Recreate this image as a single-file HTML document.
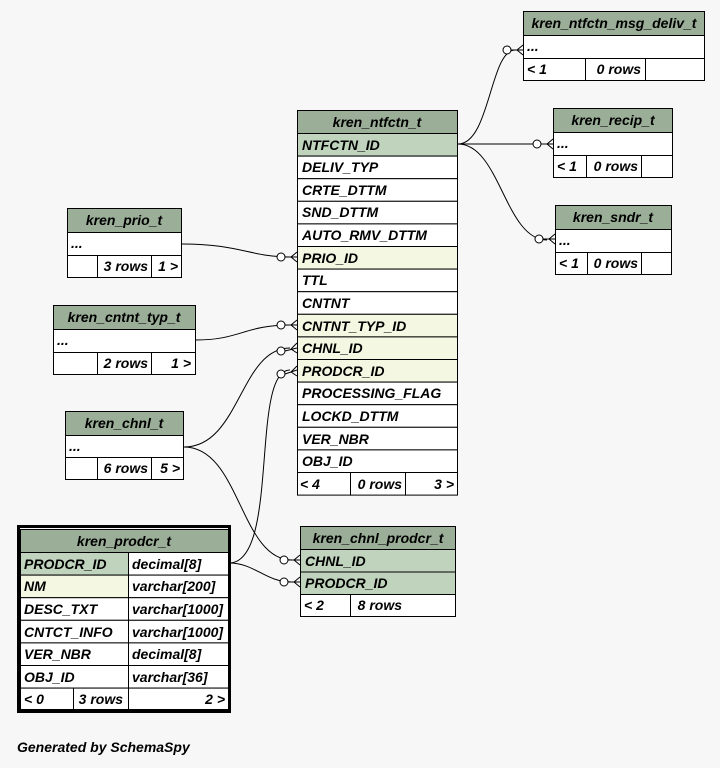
<!DOCTYPE html>
<html><head><meta charset="utf-8"><style>
html,body{margin:0;padding:0;background:#f7f7f7;}
svg{display:block}
text{font-family:"Liberation Sans",sans-serif;font-weight:bold;font-style:italic;font-size:14px;fill:#000}
.h{fill:#9aae98}.pk{fill:#bfd3bd}.fk{fill:#f4f7e1}.w{fill:#fff}
rect{stroke:#000;stroke-width:1}
path{fill:none;stroke:#000;stroke-width:1}
circle{fill:#fff;stroke:#000}
</style></head><body>
<svg width="720" height="768" viewBox="0 0 720 768" xmlns="http://www.w3.org/2000/svg">

<!-- connectors -->
<path d="M458,144 C490,144 490,50 515,50"/>
<path d="M458,144 L545,144"/>
<path d="M458,144 C500,144 505,240 547,240"/>
<path d="M182,244 C240,244 250,257 290,257"/>
<path d="M196,340 C240,340 245,325 290,325"/>
<path d="M184,447 C240,447 240,348 290,348"/>
<path d="M184,447 C240,447 240,560 292,560"/>
<path d="M229,563 C280,563 250,370 290,370"/>
<path d="M229,563 C255,563 265,582 292,582"/>
<circle cx="507" cy="50" r="4"/><path d="M511,50 L523,50 M517,50 L523,45 M517,50 L523,55"/>
<circle cx="537" cy="144" r="4"/><path d="M541,144 L553,144 M547,144 L553,139 M547,144 L553,149"/>
<circle cx="539" cy="239" r="4"/><path d="M543,239 L555,239 M549,239 L555,234 M549,239 L555,244"/>
<circle cx="281" cy="257" r="4"/><path d="M285,257 L297,257 M291,257 L297,252 M291,257 L297,262"/>
<circle cx="281" cy="325" r="4"/><path d="M285,325 L297,325 M291,325 L297,320 M291,325 L297,330"/>
<circle cx="281" cy="351" r="4"/><path d="M285,351 L297,348 M291,349 L297,343 M291,349 L297,353"/>
<circle cx="281" cy="374" r="4"/><path d="M285,374 L297,370 M291,372 L297,366 M291,372 L297,376"/>
<circle cx="284" cy="560" r="4"/><path d="M288,560 L300,560 M294,560 L300,555 M294,560 L300,565"/>
<circle cx="284" cy="582" r="4"/><path d="M288,582 L300,582 M294,582 L300,577 M294,582 L300,587"/>

<!-- kren_ntfctn_t -->
<rect class="h" x="297.5" y="110.5" width="160" height="23"/>
<text x="377" y="127" text-anchor="middle">kren_ntfctn_t</text>
<rect class="pk" x="297.5" y="133.5" width="160" height="22.6"/>
<rect class="w" x="297.5" y="156.1" width="160" height="22.6"/>
<rect class="w" x="297.5" y="178.7" width="160" height="22.6"/>
<rect class="w" x="297.5" y="201.3" width="160" height="22.6"/>
<rect class="w" x="297.5" y="223.9" width="160" height="22.6"/>
<rect class="fk" x="297.5" y="246.5" width="160" height="22.6"/>
<rect class="w" x="297.5" y="269.1" width="160" height="22.6"/>
<rect class="w" x="297.5" y="291.7" width="160" height="22.6"/>
<rect class="fk" x="297.5" y="314.3" width="160" height="22.6"/>
<rect class="fk" x="297.5" y="336.9" width="160" height="22.6"/>
<rect class="fk" x="297.5" y="359.5" width="160" height="22.6"/>
<rect class="w" x="297.5" y="382.1" width="160" height="22.6"/>
<rect class="w" x="297.5" y="404.7" width="160" height="22.6"/>
<rect class="w" x="297.5" y="427.3" width="160" height="22.6"/>
<rect class="w" x="297.5" y="449.9" width="160" height="22.6"/>
<rect class="w" x="297.5" y="472.5" width="53" height="22.6"/>
<rect class="w" x="350.5" y="472.5" width="55" height="22.6"/>
<rect class="w" x="405.5" y="472.5" width="52" height="22.6"/>
<text x="302" y="150">NTFCTN_ID</text>
<text x="302" y="172">DELIV_TYP</text>
<text x="302" y="195">CRTE_DTTM</text>
<text x="302" y="217">SND_DTTM</text>
<text x="302" y="240">AUTO_RMV_DTTM</text>
<text x="302" y="263">PRIO_ID</text>
<text x="302" y="285">TTL</text>
<text x="302" y="308">CNTNT</text>
<text x="302" y="331">CNTNT_TYP_ID</text>
<text x="302" y="353">CHNL_ID</text>
<text x="302" y="376">PRODCR_ID</text>
<text x="302" y="398">PROCESSING_FLAG</text>
<text x="302" y="421">LOCKD_DTTM</text>
<text x="302" y="444">VER_NBR</text>
<text x="302" y="466">OBJ_ID</text>
<text x="300" y="489">&lt; 4</text>
<text x="402" y="489" text-anchor="end">0 rows</text>
<text x="454" y="489" text-anchor="end">3 &gt;</text>

<!-- kren_ntfctn_msg_deliv_t -->
<rect class="h" x="523.5" y="11.5" width="181" height="24"/>
<text x="614" y="28" text-anchor="middle">kren_ntfctn_msg_deliv_t</text>
<rect class="w" x="523.5" y="35.5" width="181" height="23"/>
<text x="527" y="51">...</text>
<rect class="w" x="523.5" y="58.5" width="62" height="22"/>
<rect class="w" x="585.5" y="58.5" width="60" height="22"/>
<rect class="w" x="645.5" y="58.5" width="59" height="22"/>
<text x="527" y="74">&lt; 1</text>
<text x="641" y="74" text-anchor="end">0 rows</text>

<!-- kren_recip_t -->
<rect class="h" x="553.5" y="108.5" width="119" height="24"/>
<text x="613" y="125" text-anchor="middle">kren_recip_t</text>
<rect class="w" x="553.5" y="132.5" width="119" height="23"/>
<text x="557" y="148">...</text>
<rect class="w" x="553.5" y="155.5" width="33" height="22"/>
<rect class="w" x="586.5" y="155.5" width="55" height="22"/>
<rect class="w" x="641.5" y="155.5" width="31" height="22"/>
<text x="557" y="171">&lt; 1</text>
<text x="638" y="171" text-anchor="end">0 rows</text>

<!-- kren_sndr_t -->
<rect class="h" x="555.5" y="205.5" width="116" height="24"/>
<text x="613" y="222" text-anchor="middle">kren_sndr_t</text>
<rect class="w" x="555.5" y="229.5" width="116" height="23"/>
<text x="559" y="245">...</text>
<rect class="w" x="555.5" y="252.5" width="32" height="22"/>
<rect class="w" x="587.5" y="252.5" width="54" height="22"/>
<rect class="w" x="641.5" y="252.5" width="30" height="22"/>
<text x="559" y="268">&lt; 1</text>
<text x="638" y="268" text-anchor="end">0 rows</text>

<!-- kren_prio_t -->
<rect class="h" x="67.5" y="208.5" width="114" height="24"/>
<text x="124" y="225" text-anchor="middle">kren_prio_t</text>
<rect class="w" x="67.5" y="232.5" width="114" height="23"/>
<text x="71" y="248">...</text>
<rect class="w" x="67.5" y="255.5" width="30" height="22"/>
<rect class="w" x="97.5" y="255.5" width="54" height="22"/>
<rect class="w" x="151.5" y="255.5" width="30" height="22"/>
<text x="148" y="271" text-anchor="end">3 rows</text>
<text x="178" y="271" text-anchor="end">1 &gt;</text>

<!-- kren_cntnt_typ_t -->
<rect class="h" x="53.5" y="305.5" width="142" height="24"/>
<text x="124" y="322" text-anchor="middle">kren_cntnt_typ_t</text>
<rect class="w" x="53.5" y="329.5" width="142" height="23"/>
<text x="57" y="345">...</text>
<rect class="w" x="53.5" y="352.5" width="44" height="22"/>
<rect class="w" x="97.5" y="352.5" width="54" height="22"/>
<rect class="w" x="151.5" y="352.5" width="44" height="22"/>
<text x="148" y="368" text-anchor="end">2 rows</text>
<text x="191" y="368" text-anchor="end">1 &gt;</text>

<!-- kren_chnl_t -->
<rect class="h" x="65.5" y="411.5" width="118" height="24"/>
<text x="124" y="428" text-anchor="middle">kren_chnl_t</text>
<rect class="w" x="65.5" y="435.5" width="118" height="22"/>
<text x="69" y="451">...</text>
<rect class="w" x="65.5" y="457.5" width="32" height="22"/>
<rect class="w" x="97.5" y="457.5" width="54" height="22"/>
<rect class="w" x="151.5" y="457.5" width="32" height="22"/>
<text x="148" y="473" text-anchor="end">6 rows</text>
<text x="180" y="473" text-anchor="end">5 &gt;</text>

<!-- kren_prodcr_t -->
<rect x="18.5" y="526.5" width="211" height="185" style="fill:none;stroke-width:3"/>
<rect class="h" x="20.5" y="529.5" width="208" height="23"/>
<text x="124" y="546" text-anchor="middle">kren_prodcr_t</text>
<rect class="pk" x="20.5" y="552.5" width="108" height="22.6"/><rect class="w" x="128.5" y="552.5" width="100" height="22.6"/>
<rect class="fk" x="20.5" y="575.1" width="108" height="22.6"/><rect class="w" x="128.5" y="575.1" width="100" height="22.6"/>
<rect class="w" x="20.5" y="597.7" width="108" height="22.6"/><rect class="w" x="128.5" y="597.7" width="100" height="22.6"/>
<rect class="w" x="20.5" y="620.3" width="108" height="22.6"/><rect class="w" x="128.5" y="620.3" width="100" height="22.6"/>
<rect class="w" x="20.5" y="642.9" width="108" height="22.6"/><rect class="w" x="128.5" y="642.9" width="100" height="22.6"/>
<rect class="w" x="20.5" y="665.5" width="108" height="22.6"/><rect class="w" x="128.5" y="665.5" width="100" height="22.6"/>
<rect class="w" x="20.5" y="688.1" width="53" height="21.4"/><rect class="w" x="73.5" y="688.1" width="55" height="21.4"/><rect class="w" x="128.5" y="688.1" width="100" height="21.4"/>
<text x="24" y="569">PRODCR_ID</text><text x="132" y="569">decimal[8]</text>
<text x="24" y="591">NM</text><text x="132" y="591">varchar[200]</text>
<text x="24" y="614">DESC_TXT</text><text x="132" y="614">varchar[1000]</text>
<text x="24" y="637">CNTCT_INFO</text><text x="132" y="637">varchar[1000]</text>
<text x="24" y="659">VER_NBR</text><text x="132" y="659">decimal[8]</text>
<text x="24" y="682">OBJ_ID</text><text x="132" y="682">varchar[36]</text>
<text x="24" y="704">&lt; 0</text>
<text x="123" y="704" text-anchor="end">3 rows</text>
<text x="225" y="704" text-anchor="end">2 &gt;</text>

<!-- kren_chnl_prodcr_t -->
<rect class="h" x="300.5" y="526.5" width="155" height="23"/>
<text x="378" y="543" text-anchor="middle">kren_chnl_prodcr_t</text>
<rect class="pk" x="300.5" y="549.5" width="155" height="22.5"/>
<rect class="pk" x="300.5" y="572" width="155" height="22.5"/>
<rect class="w" x="300.5" y="594.5" width="50" height="22"/>
<rect class="w" x="350.5" y="594.5" width="105" height="22"/>
<text x="305" y="566">CHNL_ID</text>
<text x="305" y="588">PRODCR_ID</text>
<text x="304" y="610">&lt; 2</text>
<text x="402" y="610" text-anchor="end">8 rows</text>

<text x="17" y="752">Generated by SchemaSpy</text>
</svg>
</body></html>
